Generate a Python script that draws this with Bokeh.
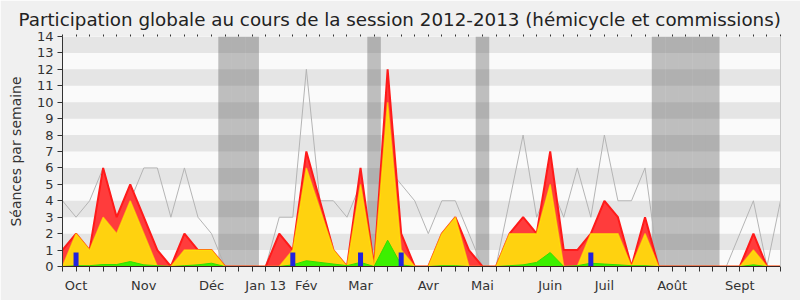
from bokeh.plotting import figure
from bokeh.models import Range1d, FixedTicker, LinearAxis
from bokeh.embed import file_html
from bokeh.resources import INLINE

# ---- data (one value per week, session 2012-2013) ----
weeks = list(range(54))
presence_mediane = [4, 3, 4, 6, 3, 4, 6, 6, 3, 6, 3, 2, 0, 0, 0, 0, 3, 3, 12, 4,
                    4, 3, 5, 0, 6, 5, 4, 2, 4, 4, 2, 0, 0, 4, 8, 3, 5, 3, 6, 3,
                    8, 4, 4, 6, 0, 0, 0, 0, 0, 0, 2, 4, 0, 4]
presence_totale = [1, 2, 1, 6, 3, 5, 3, 1, 0, 2, 1, 1, 0, 0, 0, 0, 2, 1, 7, 4,
                   1, 0, 6, 0, 12, 2, 0, 0, 2, 3, 1, 0, 0, 2, 3, 2, 7, 1, 1, 2,
                   4, 3, 0, 3, 0, 0, 0, 0, 0, 0, 0, 2, 0, 0]
presence_hemicycle = [0, 2, 1, 3, 2, 4, 2, 0, 0, 1, 1, 1, 0, 0, 0, 0, 0, 1, 6, 3.5,
                      1, 0, 5, 0, 10, 1, 0, 0, 2, 3, 0, 0, 0, 2, 2, 2, 5, 0, 0, 2,
                      2, 2, 0, 2, 0, 0, 0, 0, 0, 0, 0, 1, 0, 0]
interventions = [0, 0.05, 0.05, 0.12, 0.12, 0.3, 0.1, 0.05, 0, 0.05, 0.1, 0.2, 0, 0, 0, 0, 0, 0.1, 0.35, 0.25,
                 0.15, 0.05, 0.25, 0, 1.6, 0.1, 0, 0, 0.05, 0.05, 0, 0, 0, 0.05, 0.1, 0.25, 0.85, 0, 0.05, 0.2,
                 0.15, 0.1, 0.05, 0.05, 0, 0, 0, 0, 0, 0, 0, 0.1, 0, 0]
questions_weeks = [1, 17, 22, 25, 39]
questions = [0.85, 0.85, 0.85, 0.85, 0.85]
vacances = [12, 13, 14, 23, 31, 44, 45, 46, 47, 48]
month_labels = ["Oct", "Nov", "Déc", "Jan 13", "Fév", "Mar", "Avr", "Mai", "Juin", "Juil", "Août", "Sept"]
month_positions = [1, 6, 11, 15, 18, 22, 27, 31, 36, 40, 45, 50]
y_ticks = list(range(15))

FONT = "DejaVu Sans"

p = figure(width=800, height=300, x_range=Range1d(0, 53), y_range=Range1d(0, 14),
           output_backend="svg", toolbar_location=None,
           min_border_left=62, min_border_right=20, min_border_top=36, min_border_bottom=34,
           background_fill_color="#fafafa", border_fill_color="#f0f0f0", outline_line_color=None,
           title="Participation globale au cours de la session 2012-2013 (hémicycle et commissions)")

p.title.text_font = FONT
p.title.text_font_size = "18.3px"
p.title.text_font_style = "normal"
p.title.text_color = "#222222"
p.title.align = "left"
p.title.offset = -44

# grid bands
p.xgrid.visible = False
p.ygrid.ticker = FixedTicker(ticks=y_ticks)
p.ygrid.grid_line_color = None
p.ygrid.band_fill_color = "#e5e5e5"
p.ygrid.band_fill_alpha = 1

# y axis
p.yaxis.ticker = FixedTicker(ticks=y_ticks)
p.yaxis.major_tick_out = 5
p.yaxis.major_tick_in = 0
p.yaxis.minor_tick_out = 0
p.yaxis.axis_line_color = "#333333"
p.yaxis.major_tick_line_color = "#333333"
p.yaxis.major_label_text_font = FONT
p.yaxis.major_label_text_font_size = "13px"
p.yaxis.major_label_text_color = "#333333"
p.yaxis.major_label_standoff = 4
p.yaxis.axis_label = "Séances par semaine"
p.yaxis.axis_label_text_font = FONT
p.yaxis.axis_label_text_font_size = "14px"
p.yaxis.axis_label_text_font_style = "normal"
p.yaxis.axis_label_text_color = "#333333"
p.yaxis.axis_label_standoff = 10

# x axis
p.xaxis.ticker = FixedTicker(ticks=month_positions, minor_ticks=weeks)
p.xaxis.major_label_overrides = {pos: lab for pos, lab in zip(month_positions, month_labels)}
p.xaxis.major_tick_out = 0
p.xaxis.major_tick_in = 0
p.xaxis.minor_tick_out = 5
p.xaxis.minor_tick_in = 0
p.xaxis.minor_tick_line_color = "#333333"
p.xaxis.axis_line_color = "#3a2222"
p.xaxis.major_label_text_font = FONT
p.xaxis.major_label_text_font_size = "13px"
p.xaxis.major_label_text_color = "#333333"
p.xaxis.major_label_standoff = 6

# top dotted ticks
top = LinearAxis(ticker=FixedTicker(ticks=[], minor_ticks=weeks), axis_line_color=None,
                 major_tick_out=0, major_tick_in=0, minor_tick_out=2, minor_tick_in=0,
                 minor_tick_line_color="#333333", major_label_text_font_size="0px")
p.add_layout(top, "above")
right = LinearAxis(ticker=FixedTicker(ticks=[]), axis_line_color="#c8c8c8",
                   major_tick_out=0, minor_tick_out=0, major_label_text_font_size="0px")
p.add_layout(right, "right")

# vacation bands
p.vbar(x=vacances, width=1, bottom=0, top=14, fill_color="#464646", fill_alpha=0.33, line_color=None)

# median line
p.line(weeks, presence_mediane, line_color="#b4b4b4", line_width=1)

# areas
p.varea(x=weeks, y1=0, y2=presence_totale, fill_color="#ff3c3c")
p.line(weeks, presence_totale, line_color="#ff1a1a", line_width=2)
p.varea(x=weeks, y1=0, y2=presence_hemicycle, fill_color="#ffd20f")
p.line(weeks, presence_hemicycle, line_color="#ffee00", line_width=1.5, line_alpha=0.6)
p.varea(x=weeks, y1=0, y2=interventions, fill_color="#3cf000")
p.line(weeks, interventions, line_color="#33dd00", line_width=1)
p.vbar(x=questions_weeks, width=0.37, bottom=0, top=questions, fill_color="#2222dd", line_color=None)

open("out.html", "w").write(file_html(p, INLINE))
